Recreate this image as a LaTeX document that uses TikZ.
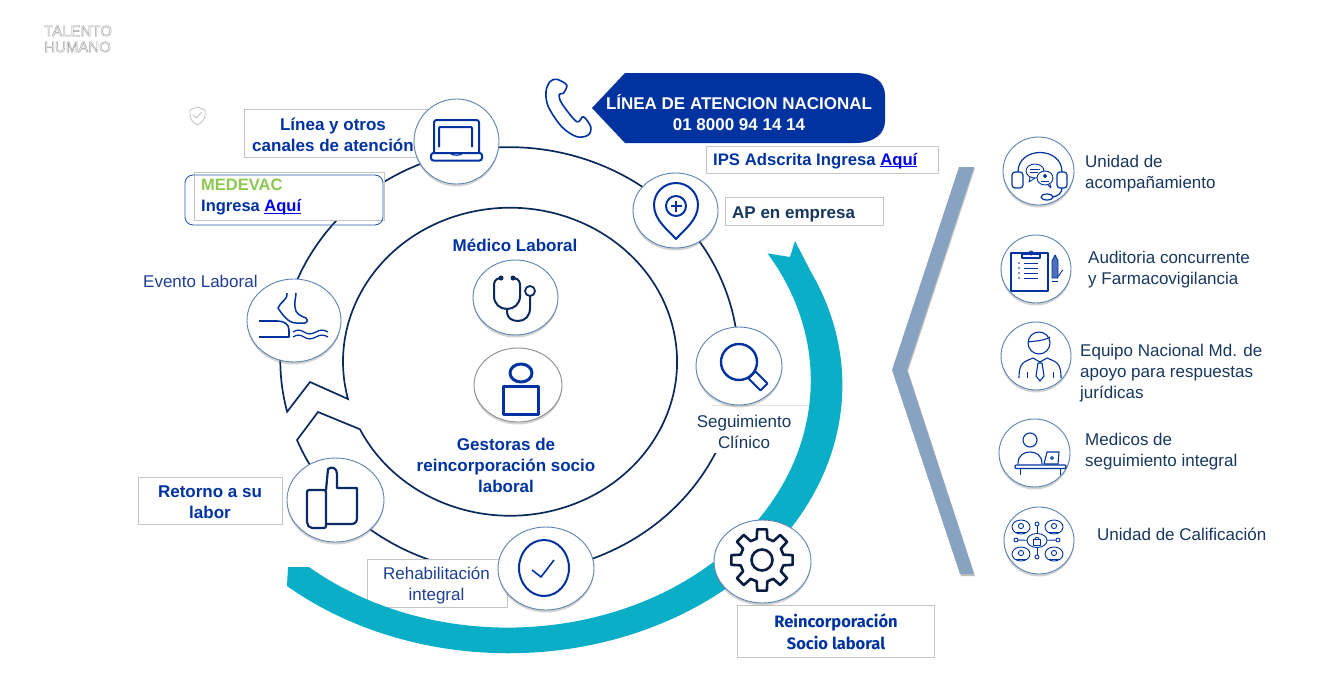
\documentclass[tikz,border=0pt]{standalone}
\usepackage{fontspec}
\setmainfont{Liberation Sans}
\newfontfamily\dinfont{Fira Sans}
\usepackage{xcolor}
\usetikzlibrary{shapes.geometric, shadows}

\definecolor{navyline}{HTML}{0B2A5C}
\definecolor{royal}{HTML}{0033A0}
\definecolor{slate}{HTML}{17375E}
\definecolor{softblue}{HTML}{1F3F95}
\definecolor{tealband}{HTML}{0AAFC7}
\definecolor{steel}{HTML}{88A2C2}
\definecolor{edgeblue}{HTML}{5B84B1}
\definecolor{boxgrey}{HTML}{C4C4C4}
\definecolor{linkblue}{HTML}{0000EE}
\definecolor{medgreen}{HTML}{8CC850}
\newcommand{\aqui}{\textcolor{linkblue}{\underline{\smash{Aquí}}}}

\tikzset{
    bubble/.style={ellipse, draw=edgeblue, fill=white, line width=0.9, inner sep=0,
        drop shadow={shadow xshift=0pt, shadow yshift=-2.5pt, opacity=0.35, fill=black!50}},
    labelbox/.style={draw=boxgrey, fill=white, line width=0.8, inner sep=0},
    boldtxt/.style={font=\fontsize{17}{21}\selectfont\bfseries, text=royal, align=center, inner sep=0},
    softtxt/.style={font=\fontsize{17}{21}\selectfont, text=softblue, align=center, inner sep=0},
    sidetxt/.style={font=\fontsize{17}{21}\selectfont, text=slate, align=left, anchor=west, inner sep=0},
    icon/.style={draw=royal, line width=2, line join=round},
    thinicon/.style={draw=royal, line width=0.9, line join=round}
}

\begin{document}
\begin{tikzpicture}[x=1pt, y=1pt, yscale=-1]
    \useasboundingbox (0,0) rectangle (1322,680);

    % Logo and small shield
    \node[font=\fontsize{15}{16}\selectfont, text=black!40, align=left, anchor=west, inner sep=0] (logo) at (44,39)
        {\special{pdf:code 1 Tr 0.4 w}TALENTO\\\special{pdf:code 1 Tr 0.4 w}HUMANO};
    \draw[draw=black!25, line width=0.8] (197.5,107) -- (205,110) -- (205,115) .. controls (205,120) and (201,123) .. (197.5,125)
        .. controls (194,123) and (190,120) .. (190,115) -- (190,110) -- cycle;
    \draw[draw=black!25, line width=0.8] (193.5,115) -- (196.5,118) -- (202,112);

    % Ring ribbon, inner circle then outer circle
    \draw[navyline, line width=1.7, line join=miter]
        (348,399) arc[start angle=166, end angle=514, x radius=167, y radius=154]
        -- (318,412) -- (297,440)
        arc[start angle=158, end angle=-194, x radius=229, y radius=213]
        -- (310,382) -- cycle;

    % Label boxes
    \node[labelbox, minimum width=186, minimum height=48] (lineabox) at (337,133) {};
    \node[labelbox, minimum width=190, minimum height=48] (medevacbox) at (289,196) {};
    \draw[draw=royal!80, line width=0.9, rounded corners=8] (185,175) rectangle (383,225);
    \node[labelbox, minimum width=232, minimum height=27] (ipsbox) at (822,159.5) {};
    \node[labelbox, minimum width=158, minimum height=28] (apbox) at (804,211) {};
    \node[labelbox, minimum width=144, minimum height=47] (retornobox) at (210,500.5) {};
    \node[labelbox, minimum width=140, minimum height=48] (rehabbox) at (437,583) {};
    \node[fill=white, minimum width=97, minimum height=47, inner sep=0] (segbox) at (760.5,429.5) {};
    \draw[draw=black!12, line width=0.8] (segbox.north west) -- (segbox.north east);
    \node[labelbox, minimum width=197, minimum height=52] (reincbox) at (835.5,631) {};

    % Teal band
    \fill[tealband] (795,241) -- (811,272) arc[start angle=-25, end angle=131.5, x radius=334, y radius=268]
        -- (288,567) -- (309,567)
        arc[start angle=131, end angle=-31, x radius=303, y radius=247]
        -- (790,257) -- cycle;

    % Chevron
    \fill[black!25] (960,168) -- (975,168) -- (908,371) -- (975,576) -- (961,576) -- (893,371) -- cycle;
    \fill[steel] (959,167) -- (974,167) -- (907,370) -- (974,574) -- (960,574) -- (892,370) -- cycle;

    % Phone
    \draw[royal, line width=1.6, line join=round, fill=white] plot[smooth cycle, tension=0.55] coordinates {
        (556.7,79.3) (566.7,85) (563.3,93.3) (559.3,94.3) (561.7,103.3) (576.7,121.7) (583.3,116.7)
        (590.7,126.7) (588.3,135) (576.7,136.7) (561.7,126.7) (548.3,106.7) (546,91.7) (550,81.7)};

    % Banner
    \fill[royal] (592,108) -- (625,73) -- (855,73) .. controls (875,73) and (885,83) .. (885,95)
        -- (885,121) .. controls (885,133) and (875,143) .. (855,143) -- (625,143) -- cycle;
    \node[boldtxt, text=white] (linea) at (739,112.5) {LÍNEA DE ATENCION NACIONAL\\01 8000 94 14 14};

    % Ring circles
    \node[bubble, minimum width=85, minimum height=85] (laptop) at (456.5,141.5) {};
    \node[bubble, minimum width=85, minimum height=75] (pin) at (675.5,210.5) {};
    \node[bubble, minimum width=86, minimum height=78] (lupa) at (739,366) {};
    \node[bubble, minimum width=94, minimum height=83] (foot) at (294,320.5) {};
    \node[bubble, minimum width=85, minimum height=75] (steth) at (515.5,297.5) {};
    \node[bubble, minimum width=88, minimum height=74, draw=black!45] (person) at (518,385) {};
    \node[bubble, minimum width=97, minimum height=84] (thumb) at (335.5,500) {};
    \node[bubble, minimum width=96, minimum height=83] (check) at (546,568.5) {};
    \node[bubble, minimum width=97, minimum height=83] (gear) at (762.5,561.5) {};

    % Side circles
    \node[bubble, minimum width=71, minimum height=68] (headset) at (1038.5,171) {};
    \node[bubble, minimum width=70, minimum height=68] (clipboard) at (1036,269) {};
    \node[bubble, minimum width=70, minimum height=68] (worker) at (1036,356) {};
    \node[bubble, minimum width=71, minimum height=68] (doctor) at (1034.5,453) {};
    \node[bubble, minimum width=70, minimum height=67] (unit) at (1039,540.5) {};

    % Laptop
    \draw[icon, rounded corners=2.5] (434,152) -- (434,120) -- (479,120) -- (479,152);
    \draw[icon, rounded corners=1] (439,147) -- (439,127) -- (472,127) -- (472,147);
    \draw[icon, rounded corners=2.5] (431,153) -- (482,153) -- (482,160.5) -- (431,160.5) -- cycle;
    \draw[icon, line width=1.2] (450,153) .. controls (452,156) and (461,156) .. (463,153);

    % Pin
    \draw[icon] (676,239) .. controls (668,230) and (654,220) .. (654,205)
        arc[start angle=180, end angle=360, radius=22] .. controls (698,220) and (684,230) .. (676,239) -- cycle;
    \draw[icon] (676,206) circle[radius=10];
    \draw[icon, line width=1.3] (670.5,206) -- (681.5,206) (676,200.5) -- (676,211.5);

    % Magnifier
    \draw[icon, line width=2.4] (739,362) circle[radius=18];
    \draw[icon] (748.5,378.5) -- (755.5,371.5) -- (767.5,383.5) -- (760.5,390.5) -- cycle;

    % Foot and water
    \draw[icon, line width=1.6] (259,321) -- (277,321) .. controls (284,321) and (289,324) .. (289,330) -- (289,337) -- (259,337);
    \draw[icon, line width=1.5] (287,293) .. controls (288,300) and (280,302) .. (278,308) .. controls (282,314) and (288,323) .. (296,323)
        -- (305,323) .. controls (308,322) and (308,319) .. (306,318) .. controls (300,316) and (295,313) .. (295,307) .. controls (294,302) and (296,298) .. (296,293);
    \foreach \wy in {332,337}
        \draw[icon, line width=1.3] (293,\wy) .. controls (297,\wy-2.5) and (300,\wy-2.5) .. (304,\wy)
            .. controls (308,\wy+2.5) and (311,\wy+2.5) .. (316,\wy) .. controls (320,\wy-2.5) and (324,\wy-2.5) .. (328,\wy);

    % Stethoscope
    \draw[navyline, line width=2, line cap=round] (500,278) .. controls (495,279) and (494,282) .. (494,286) -- (494,296)
        .. controls (494,304) and (500,309) .. (507,309) .. controls (514,309) and (520,304) .. (520,296) -- (520,286)
        .. controls (520,282) and (519,279) .. (514,278);
    \draw[navyline, line width=2] (507,309) -- (507,312) .. controls (507,318) and (512,321) .. (518,321)
        .. controls (525,321) and (530,316) .. (530,308) -- (530,296);
    \draw[navyline, line width=1.8] (530,291) circle[radius=5];
    \fill[navyline] (501,278) circle[radius=2.5] (513,278) circle[radius=2.5];

    % Person
    \draw[icon, line width=3] (521,373) ellipse[x radius=11, y radius=9];
    \draw[icon, line width=3] (503,386) rectangle (538,414);

    % Thumb
    \draw[navyline!90!royal, line width=2.2, line join=round, rounded corners=2] (326,490) -- (307,490) -- (307,524) -- (310,528) -- (326,528) -- cycle;
    \draw[navyline!90!royal, line width=2.2, line join=round] (326,490) -- (328,469) .. controls (332,466) and (337,468) .. (337,474) -- (337,488) -- (357,488)
        -- (357,518) .. controls (357,522) and (355,524) .. (351,524) -- (326,524);

    % Check
    \draw[icon] (544,568) ellipse[x radius=25, y radius=28];
    \draw[icon, line width=1.6] (532,570) -- (541,577) -- (554,560);

    % Gear
    \begin{scope}[shift={(762,560)}]
        \draw[navyline!70!black, line width=2.6, line join=round] (-14:22)
            \foreach \a in {0,45,...,315} { -- (\a-14:22) -- (\a-9:31) -- (\a+9:31) -- (\a+14:22) } -- cycle;
        \draw[navyline!70!black, line width=2.6] (0,0) circle[radius=10.5];
    \end{scope}

    % Headset
    \draw[icon, line width=1.2] (1018,172) .. controls (1018,146) and (1062,146) .. (1062,172);
    \draw[icon, line width=1.2, rounded corners=3] (1012,172) rectangle (1023,188);
    \draw[icon, line width=1.2, rounded corners=3] (1057,172) rectangle (1067,188);
    \draw[icon, line width=1.2] (1062,188) .. controls (1062,193) and (1058,196) .. (1053,197);
    \draw[icon, line width=1.2] (1047,197) ellipse[x radius=6, y radius=3];
    \draw[thinicon] (1035,171) ellipse[x radius=9, y radius=7];
    \draw[thinicon] (1030,177) -- (1029,182) -- (1035,178);
    \draw[thinicon] (1030,169) -- (1040,169) (1030,172) -- (1038,172);
    \draw[thinicon, fill=white] (1045,178) ellipse[x radius=8, y radius=7];
    \draw[thinicon, fill=royal] (1045,176) circle[radius=1.6];
    \draw[thinicon] (1041,181.5) -- (1049,181.5);
    \draw[thinicon] (1048,185) -- (1051,188) -- (1050,184);

    % Clipboard
    \draw[thinicon, line width=1.1] (1011,253) rectangle (1048,291);
    \draw[thinicon, line width=1.1, fill=white] (1022,254) rectangle (1040,258);
    \draw[thinicon] (1031,253) circle[radius=2];
    \foreach \ly in {263,268,273,278} {
        \draw[thinicon] (1024,\ly) -- (1038,\ly);
        \fill[royal] (1019,\ly) circle[radius=0.8];
    }
    \draw[thinicon, fill=royal!70] (1052,261) -- (1055,255) -- (1058,261) -- (1058,278) -- (1052,278) -- cycle;
    \draw[thinicon] (1058,276) .. controls (1060,276) and (1060,272) .. (1063,270);
    \draw[thinicon] (1052,281) -- (1058,281);

    % Worker
    \draw[thinicon, line width=1.1] (1039,343) circle[radius=11];
    \draw[thinicon, line width=1.1] (1028,342) .. controls (1034,341) and (1044,341) .. (1050,337);
    \draw[thinicon, line width=1.1] (1019,378) .. controls (1019,362) and (1024,362) .. (1033,358) -- (1040,362) -- (1047,358)
        .. controls (1056,362) and (1061,362) .. (1061,378);
    \draw[thinicon, line width=1.1] (1038,363) -- (1042,363) -- (1044,376) -- (1040,381) -- (1036,376) -- cycle;
    \draw[thinicon] (1027,372) -- (1027,378) (1053,372) -- (1053,378);

    % Doctor at desk
    \draw[thinicon, line width=1.1] (1030,440) circle[radius=7];
    \draw[thinicon, line width=1.1] (1018,464) .. controls (1018,455) and (1024,452) .. (1030,452) .. controls (1036,452) and (1042,455) .. (1042,464);
    \draw[thinicon, line width=1.1, rounded corners=1] (1015,465) rectangle (1066,468.5);
    \draw[thinicon] (1020,468.5) -- (1020,475) (1060,468.5) -- (1060,475);
    \draw[thinicon, line width=1.1, fill=white] (1047,452) -- (1059,452) -- (1058,464) -- (1044,464) -- cycle;
    \draw[thinicon] (1052,458) circle[radius=1.5];

    % Network of people
    \foreach \ux/\uy in {1021/527, 1054/527, 1021/554, 1054/554} {
        \draw[thinicon] (\ux,\uy) ellipse[x radius=9, y radius=7];
        \draw[thinicon] (\ux,\uy-1) circle[radius=2.6];
        \draw[thinicon] (\ux-5,\uy+5) -- (\ux+5,\uy+5);
    }
    \foreach \dx/\dy in {1037/524, 1037/557, 1016/540, 1058/540} {
        \draw[thinicon] (1037,540.5) -- (\dx,\dy);
        \draw[thinicon, fill=white] (\dx,\dy) circle[radius=2];
    }
    \draw[thinicon, fill=white] (1037,540.5) ellipse[x radius=10, y radius=7];
    \draw[thinicon] (1033.5,539.5) rectangle (1040.5,545);
    \draw[thinicon] (1034.8,539.5) arc[start angle=180, end angle=360, radius=2.2];

    % Texts
    \node[boldtxt] (lineatxt) at (333,134.5) {Línea y otros\\canales de atención};
    \node[boldtxt, font=\fontsize{16.5}{21}\selectfont\bfseries, align=left, anchor=west] (medevac) at (201,197)
        {\textcolor{medgreen}{MEDEVAC}\\Ingresa \aqui};
    \node[boldtxt, font=\fontsize{16.7}{21}\selectfont\bfseries, anchor=west] (ips) at (713,161) {IPS Adscrita Ingresa \aqui};
    \node[boldtxt, text=slate, anchor=west] (ap) at (732,214.5) {AP en empresa};
    \node[boldtxt] (retorno) at (210,502.5) {Retorno a su\\labor};
    \node[softtxt] (rehab) at (436.5,585.5) {Rehabilitación\\integral};
    \node[softtxt, text=slate] (seguimiento) at (744,431.5) {Seguimiento\\Clínico};
    \node[boldtxt, font=\dinfont\fontsize{16.5}{22}\selectfont\bfseries] (reinc) at (836,632) {Reincorporación\\Socio laboral};
    \node[boldtxt] (medico) at (515,245) {Médico Laboral};
    \node[boldtxt] (gestoras) at (506,465) {Gestoras de\\reincorporación socio\\laboral};
    \node[softtxt, anchor=west] (evento) at (143,281) {Evento Laboral};
    \node[sidetxt] (acomp) at (1085,173.5) {Unidad de\\acompañamiento};
    \node[sidetxt] (audit) at (1088,269.5) {Auditoria concurrente\\y Farmacovigilancia};
    \node[sidetxt] (equipo) at (1080,373) {Equipo Nacional Md. de\\apoyo para respuestas\\jurídicas};
    \node[sidetxt] (medicos) at (1085,451.5) {Medicos de\\seguimiento integral};
    \node[sidetxt] (calif) at (1097,534) {Unidad de Calificación};
\end{tikzpicture}
\end{document}
